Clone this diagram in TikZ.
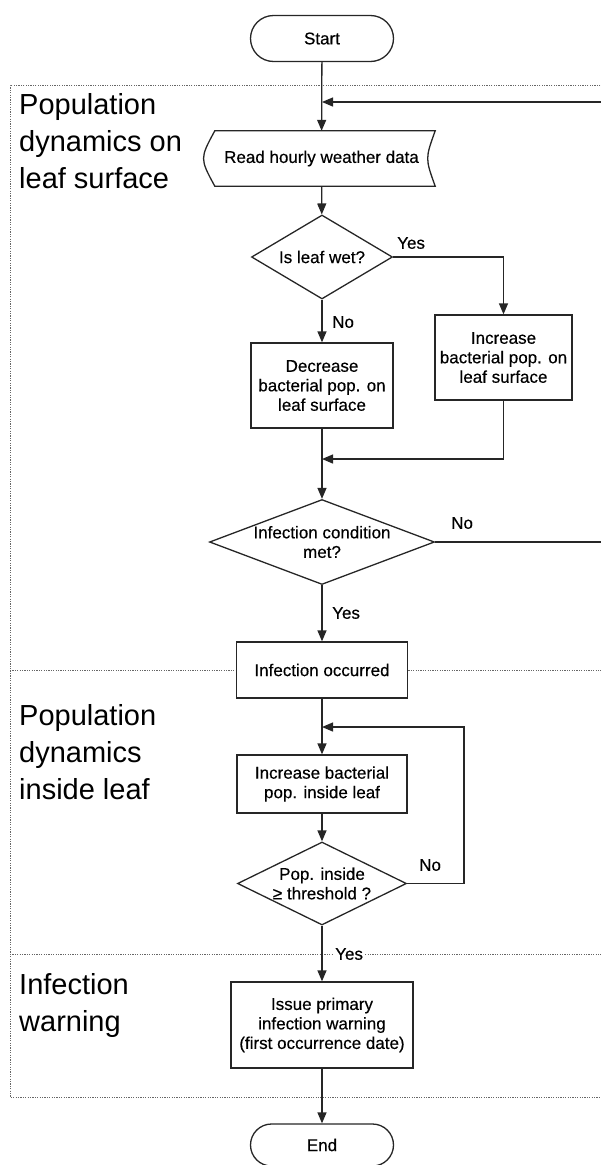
\documentclass[tikz,border=0pt]{standalone}
\usepackage{fontspec}
\setmainfont{Liberation Sans}
\newfontfamily\boxfont{Liberation Sans}[FakeBold=0.4]
\usetikzlibrary{arrows.meta,shapes.geometric,shapes.misc}
\tikzset{
  base/.style={draw=black!85, line width=1.3pt, fill=white, align=center, font=\boxfont\fontsize{17}{19.5}\selectfont, inner sep=0pt},
  terminal/.style={base, rounded rectangle, minimum width=143pt, minimum height=46pt},
  proc/.style={base, rectangle},
  decision/.style={base, diamond},
  io/.style={rectangle, inner sep=0pt, font=\boxfont\fontsize{17}{19.5}\selectfont},
  conn/.style={draw=black!85, line width=1.3pt, -{Triangle[length=11pt,width=9pt]}},
  plain/.style={draw=black!85, line width=1.3pt},
  lbl/.style={font=\boxfont\fontsize{17}{19.5}\selectfont, inner sep=1pt},
  section/.style={font=\fontsize{29}{37}\selectfont, align=left, anchor=north west, inner sep=0pt},
  frame/.style={draw=black!60, line width=0.9pt, dash pattern=on 1.2pt off 1.2pt}
}
\begin{document}
\begin{tikzpicture}[x=1pt,y=-1pt]
\useasboundingbox (0,0) rectangle (601,1165);
% frames
\draw[frame] (610,85) -- (10,85) -- (10,1097) -- (610,1097);
\draw[frame] (10,670) -- (610,670);
\draw[frame] (10,954) -- (610,954);
% section labels
\node[section] (s1) at (19,93) {Population\\dynamics on\\leaf surface};
\node[section] (s2) at (19,704) {Population\\dynamics\\inside leaf};
\node[section] (s3) at (19,973) {Infection\\warning};
% nodes
\node[terminal] (start) at (322,38.5) {Start};
\node[io, minimum width=227pt, minimum height=55pt] (read) at (321.5,158.5) {Read hourly weather data};
\draw[line width=1.3pt, draw=black!85]
  ([xshift=7pt]read.north west) -- ([xshift=0pt]read.north east)
  .. controls ([xshift=-10pt]read.east) .. ([xshift=0pt]read.south east)
  -- ([xshift=7pt]read.south west)
  .. controls ([xshift=-8pt]read.west) .. ([xshift=7pt]read.north west) -- cycle;
\node[decision, minimum width=141pt, minimum height=84pt, shape aspect=1.68] (wet) at (322,257) {Is leaf wet?};
\node[proc, minimum width=142pt, minimum height=85pt] (dec) at (322,385.5) {Decrease\\bacterial pop. on\\leaf surface};
\node[proc, minimum width=137pt, minimum height=85pt] (inc) at (503.5,357.5) {Increase\\bacterial pop. on\\leaf surface};
\node[decision, minimum width=225pt, minimum height=85pt, shape aspect=2.65] (cond) at (322,542) {Infection condition\\met?};
\node[proc, minimum width=171pt, minimum height=56pt] (occ) at (322,670) {Infection occurred};
\node[proc, minimum width=170pt, minimum height=58pt] (incl) at (322,784) {Increase bacterial\\pop. inside leaf};
\node[decision, minimum width=169pt, minimum height=83pt, shape aspect=2.04] (thr) at (322,883.5) {Pop. inside\\≥ threshold ?};
\node[proc, minimum width=182pt, minimum height=86pt] (issue) at (322,1025) {Issue primary\\infection warning\\(first occurrence date)};
\node[terminal, minimum height=42pt] (end) at (322,1145) {End};
% junctions
\coordinate (j1) at (322,102);
\coordinate (j2) at (322,459);
\coordinate (j3) at (322,727);
\coordinate (rt) at (615,542);
\coordinate (rt2) at (615,102);
\coordinate (lp) at (464,883.5);
% connectors
\draw[conn] (start) -- (read);
\draw[conn] (rt) -- (rt2) -- (j1);
\draw[plain] (cond.east) -- (rt);
\draw[conn] (read) -- (wet);
\draw[conn] (wet) -- (dec);
\draw[conn] (wet.east) -| (inc.north);
\draw[conn] (inc.south) |- (j2);
\draw[conn] (dec) -- (cond);
\draw[conn] (cond) -- (occ);
\draw[conn] (occ) -- (incl);
\draw[plain] (thr.east) -- (lp);
\draw[conn] (lp) |- (j3);
\draw[conn] (incl) -- (thr);
\draw[conn] (thr) -- (issue);
\draw[conn] (issue) -- (end);
% labels
\node[lbl, anchor=west] (ly1) at (396,243) {Yes};
\node[lbl, anchor=west] (ln1) at (331,322) {No};
\node[lbl, anchor=west] (ln2) at (450,523) {No};
\node[lbl, anchor=west] (ly2) at (331,613) {Yes};
\node[lbl, anchor=west] (ln3) at (418,865) {No};
\node[lbl, anchor=west, fill=white] (ly3) at (334,954) {Yes};
\end{tikzpicture}
\end{document}
